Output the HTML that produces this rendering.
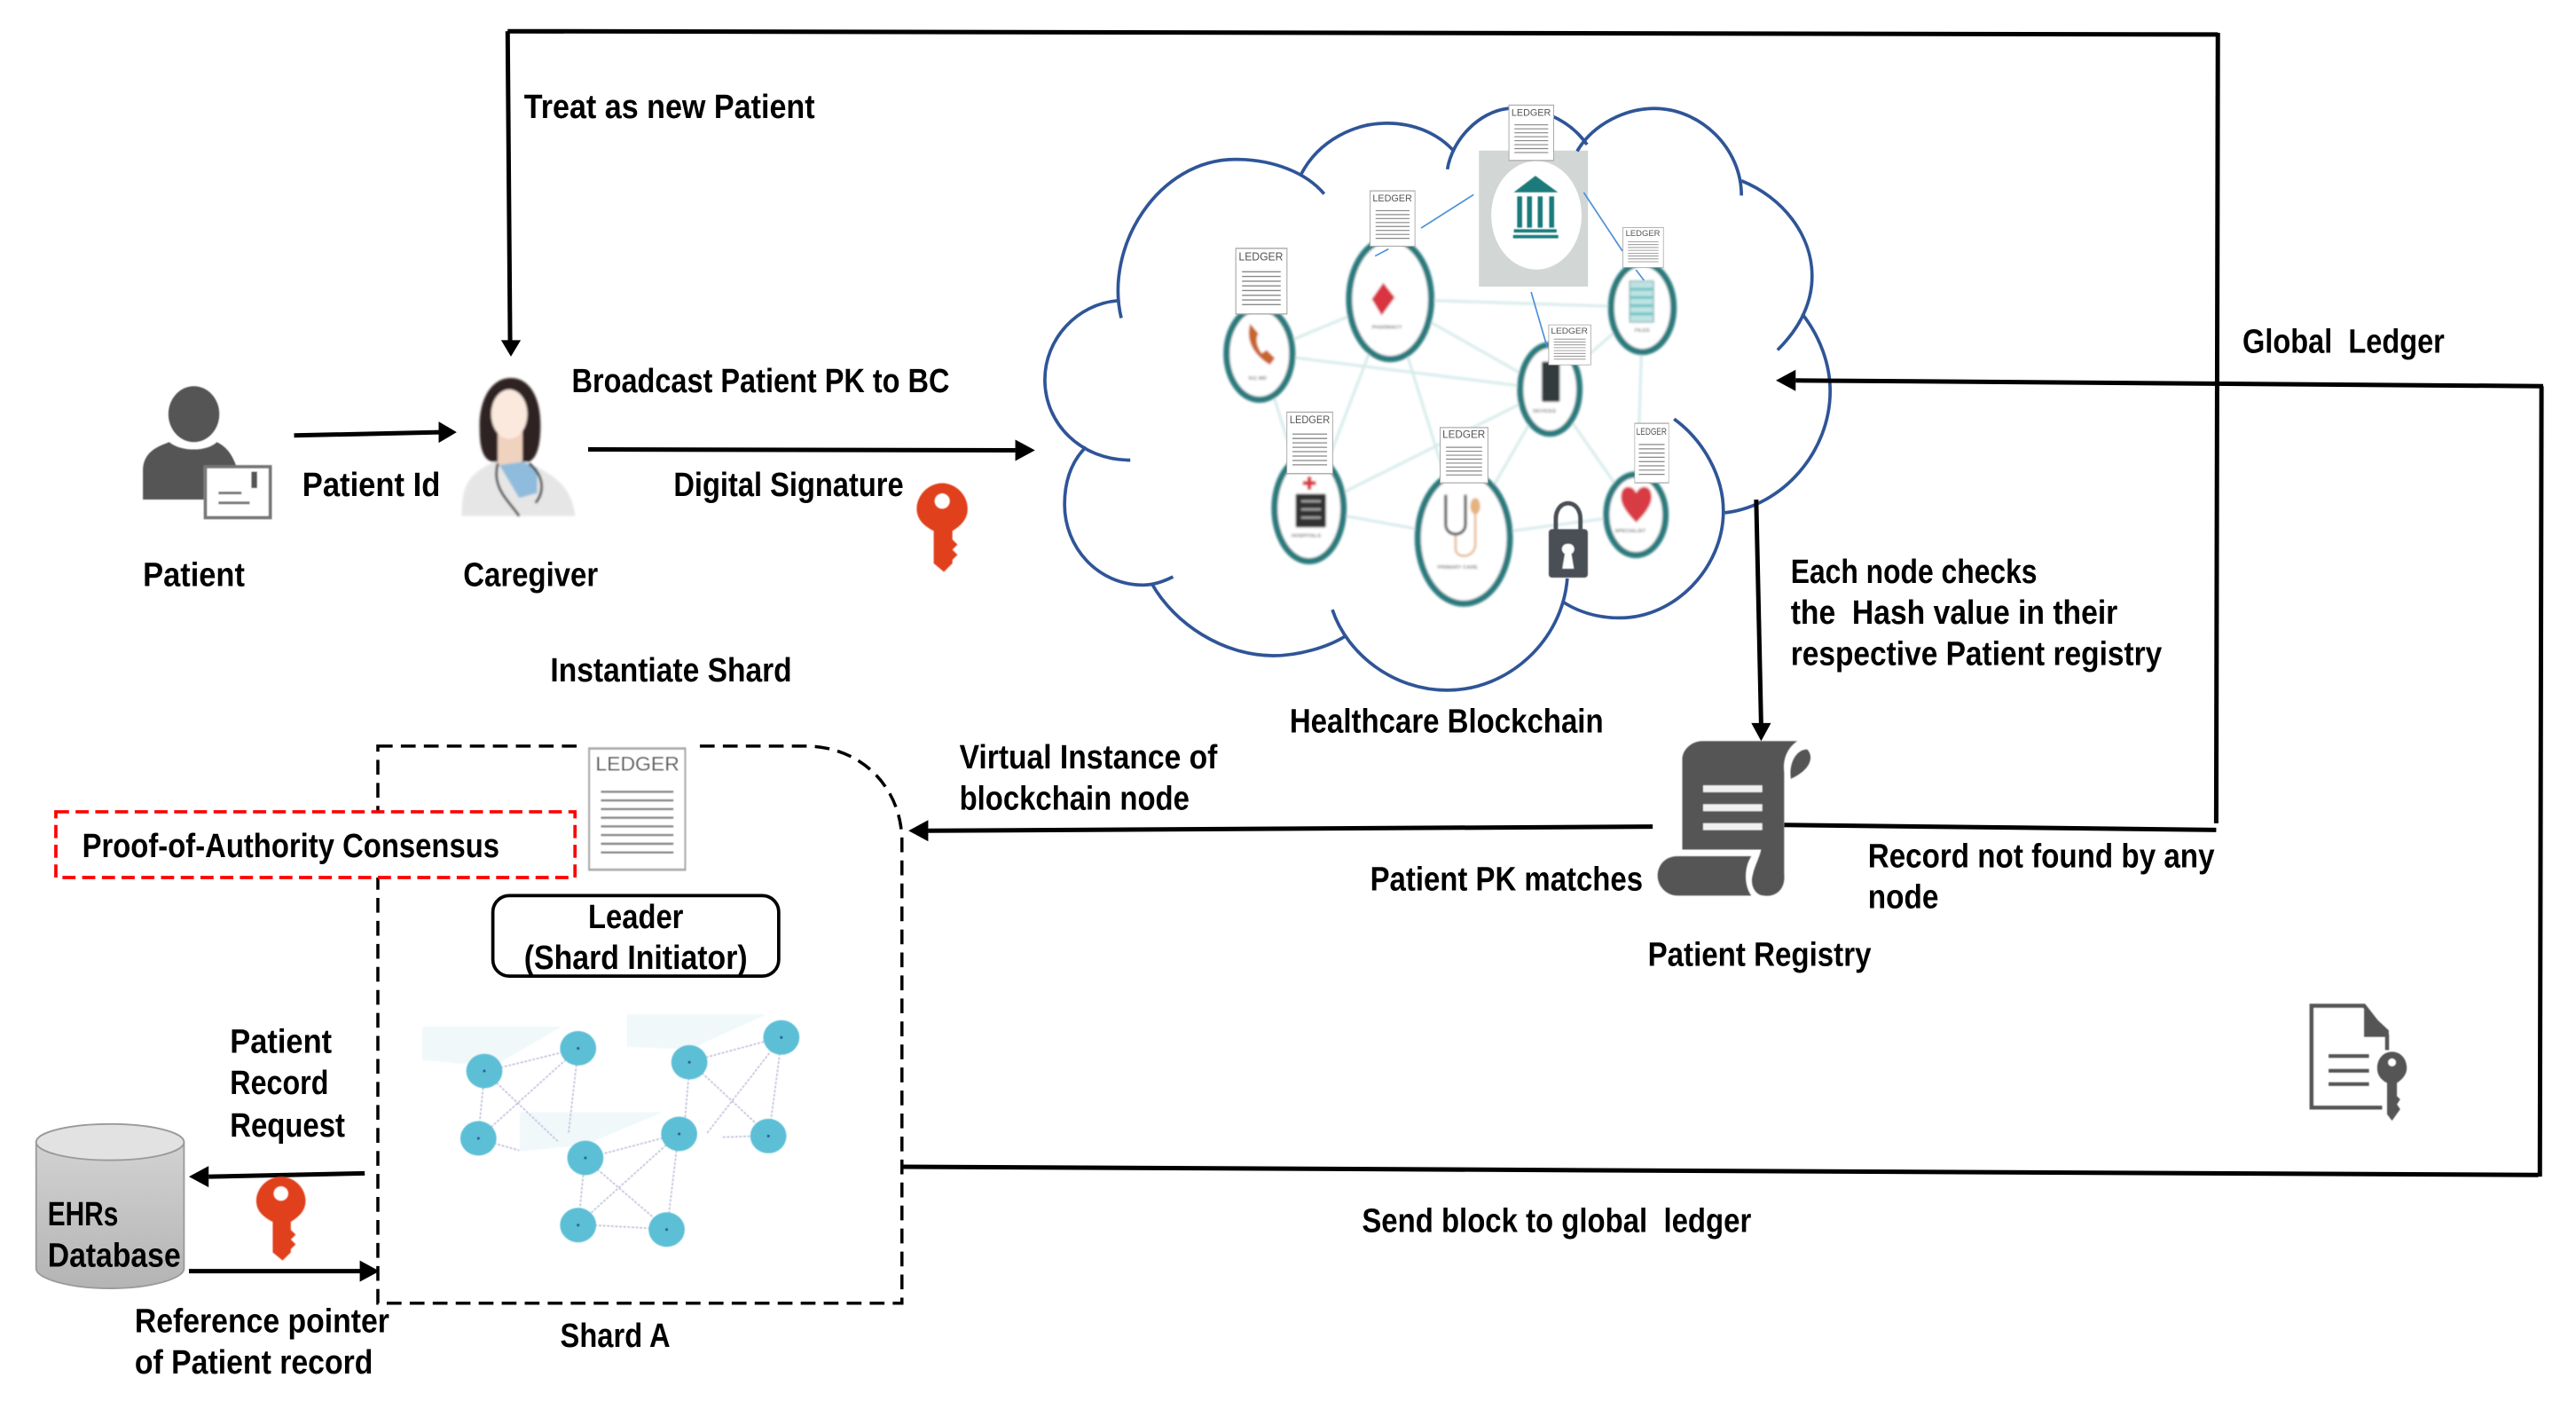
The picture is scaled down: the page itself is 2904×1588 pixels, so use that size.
<!DOCTYPE html>
<html><head><meta charset="utf-8"><style>
html,body{margin:0;padding:0;background:#fff;width:2904px;height:1588px;overflow:hidden}
svg{display:block}
.t{font-family:"Liberation Sans",sans-serif;font-weight:bold;font-size:20.5px;fill:#000}
.l{font-family:"Liberation Sans",sans-serif;fill:#555}
.n{font-family:"Liberation Sans",sans-serif;font-size:3.2px;fill:#777;font-weight:bold}
.a{stroke:#000;stroke-width:2.7;fill:none}
.c{fill:none;stroke:#2f5597;stroke-width:2}
.e{stroke:#d6eaea;stroke-width:1.6}
.b{stroke:#4a90d9;stroke-width:.9}
.r{fill:#fff;stroke:#2c7a7d;stroke-width:3.8}
.s{stroke:#b4b4d6;stroke-width:.8;stroke-dasharray:1.5 1}
</style></head><body>
<svg xmlns="http://www.w3.org/2000/svg" width="2904" height="1588" viewBox="0 0 1568 857.4" preserveAspectRatio="none">
<defs>
<filter id="bl" x="-10%" y="-10%" width="120%" height="120%"><feGaussianBlur stdDeviation=".7"/></filter>
<filter id="bl2" x="-10%" y="-10%" width="120%" height="120%"><feGaussianBlur stdDeviation=".35"/></filter>
<linearGradient id="cyl" x1="0" y1="0" x2="0" y2="1"><stop offset="0" stop-color="#d2d2d2"/><stop offset="1" stop-color="#b4b4b4"/></linearGradient>
<symbol id="led" viewBox="0 0 100 100" preserveAspectRatio="none">
<rect x="1" y="1" width="98" height="98" fill="#fff" stroke="#aaa" stroke-width="2"/>
<g stroke="#888" stroke-width="1.8"><path d="M13 36H87M13 43H87M13 50H87M13 57H87M13 64H87M13 71H87M13 78H87M13 85H87"/></g>
</symbol>
<symbol id="key" viewBox="0 0 30 52" preserveAspectRatio="none">
<path fill-rule="evenodd" fill="#e0401f" d="M15 0C23 0 30 7 30 15C30 21 26 25 21 28V33L24 36L21 39L24 42L21 45V47L16 52L10 47V28C4 25 0 21 0 15C0 7 7 0 15 0ZM15 6A4.5 4.5 0 1 0 15 15A4.5 4.5 0 1 0 15 6Z"/>
</symbol>
</defs>

<!-- Network edges -->
<g filter="url(#bl)">
<path class="e" d="M846 182L1000 187M846 182L943 237M767 215L846 182M767 215L943 237M846 182L797 310M846 182L891 327M767 215L797 310M797 310L891 327M797 310L943 237M891 327L943 237M943 237L1000 187M943 237L996 313M1000 187L996 313M891 327L996 313" fill="none"/>
<ellipse class="r" cx="766.6" cy="215.2" rx="20" ry="28"/>
<ellipse class="r" cx="846.2" cy="182" rx="25" ry="36.5"/>
<ellipse class="r" cx="999.7" cy="187.2" rx="19" ry="27"/>
<ellipse class="r" cx="943.4" cy="236.9" rx="18" ry="27"/>
<ellipse class="r" cx="796.8" cy="309.5" rx="21" ry="32"/>
<ellipse class="r" cx="891" cy="327.3" rx="28" ry="40"/>
<ellipse class="r" cx="995.8" cy="313.3" rx="18" ry="24.5"/>
<!-- phone -->
<path d="M761 197C758 207 763 216 773 222L776 218L771 213L768 215C765 211 764 206 766 203Z" fill="#c8642c"/>
<text class="n" x="760" y="231">911 MD</text>
<!-- pharmacy -->
<path d="M842 172L849 181L841 192L835 182Z" fill="#d9343f"/>
<text class="n" x="835" y="200">PHARMACY</text>
<!-- file -->
<rect x="992" y="171" width="14.5" height="25" fill="#bfe3e3" stroke="#7fa9a9" stroke-width=".7"/>
<path d="M992 176H1006M992 181H1006M992 186H1006M992 191H1006" stroke="#5fbfbf" stroke-width="1.5"/>
<text class="n" x="995" y="202">FILES</text>
<!-- mobile -->
<rect x="938.5" y="220" width="11" height="24.5" fill="#333a3c" rx="1"/>
<text class="n" x="933" y="251">DEVICES</text>
<!-- hospital -->
<rect x="788.6" y="300.5" width="18.5" height="20.5" fill="#333" rx="1"/>
<path d="M792 305H804M792 310H804M792 315H804" stroke="#aaa" stroke-width="1.2"/>
<path d="M797 290V298M793 294H801" stroke="#d9343f" stroke-width="2.4"/>
<text class="n" x="786" y="327">HOSPITALS</text>
<!-- stethoscope -->
<path d="M880 301V319C880 327 892 327 892 319V301" stroke="#444" stroke-width="1.7" fill="none"/>
<path d="M886 326V334C886 340 897 340 898 332V312" stroke="#e5b37f" stroke-width="1.3" fill="none"/>
<ellipse cx="898" cy="308" rx="3" ry="5" fill="#e5b37f"/>
<text class="n" x="875" y="346">PRIMARY CARE</text>
<!-- heart -->
<path d="M996 318C987 309 986 304 987 300C988 295 994 295 996 300C998 295 1004 295 1005 300C1006 304 1005 309 996 318Z" fill="#d93a45"/>
<text class="n" x="983" y="324">SPECIALIST</text>
</g>
<g filter="url(#bl2)">
<!-- lock -->
<path d="M947 324V316C947 303 962 303 962 316V324" stroke="#4a5055" stroke-width="2.6" fill="none"/>
<rect x="942.7" y="322" width="23.8" height="29.5" rx="2" fill="#4a5055"/>
<path d="M954.5 331A3.2 3.2 0 0 1 956.5 337L958 346H951L952.5 337A3.2 3.2 0 0 1 954.5 331Z" fill="#fff"/>
</g>

<!-- Bank tile -->
<rect x="900.2" y="91.6" width="66.4" height="82.8" fill="#d2d7d6"/>
<ellipse cx="935.2" cy="131" rx="27.5" ry="33" fill="#fff"/>
<g fill="#1f7a7a" filter="url(#bl2)">
<path d="M934.6 107L948.3 117H921.4Z"/>
<rect x="923.5" y="119.5" width="3" height="19"/><rect x="929.5" y="119.5" width="3" height="19"/><rect x="936" y="119.5" width="3" height="19"/><rect x="943" y="119.5" width="3" height="19"/>
<rect x="921.5" y="139.5" width="26" height="2"/><rect x="921" y="143" width="27.5" height="2"/>
</g>

<!-- Thin blue -->
<path class="b" d="M897 118.4L865 138.8M964 117.1L987.6 152.8M995.8 164.2L1000.7 170.6M932 177.7L941.8 211.4M837 155.8L845.2 151.5"/>

<!-- Cloud -->
<g>
<path class="c" d="M682.5 193.5C672 150 705 97 752 97C775 97 795 105 806 118"/>
<path class="c" d="M792 106C803 85 825 75 844 75C862 75 876 82 885 92"/>
<path class="c" d="M881 103C884 85 900 68 918 66C934 64 955 72 966 88"/>
<path class="c" d="M960 92C970 75 990 66 1007 66C1035 66 1060 90 1060 119"/>
<path class="c" d="M1060 110C1085 120 1103 143 1103 168C1103 185 1095 200 1082 213"/>
<path class="c" d="M1097 191C1108 205 1114 222 1114 238C1114 275 1085 308 1050 312"/>
<path class="c" d="M1019 255C1037 268 1049 290 1049 311C1049 345 1020 376 986 376C972 376 960 372 951 366"/>
<path class="c" d="M954 352C951 390 918 420 881 420C848 420 820 398 811 371"/>
<path class="c" d="M819 387C808 394 790 399 775 399C745 399 715 380 701 355"/>
<path class="c" d="M714 351C708 354 702 356 696 356C668 356 648 333 648 307C648 293 652 281 661 272"/>
<path class="c" d="M688 280C658 280 636 258 636 231C636 206 656 185 680 183"/>
</g>

<!-- Ledgers -->
<use href="#led" x="918.2" y="63.6" width="27.8" height="34.4"/>
<use href="#led" x="833.7" y="115.8" width="27.9" height="34.4"/>
<use href="#led" x="751.9" y="150.7" width="31.8" height="40.8"/>
<use href="#led" x="987.6" y="138.2" width="25.2" height="24.8"/>
<use href="#led" x="942.4" y="197.4" width="26.2" height="24.9"/>
<use href="#led" x="783" y="250.4" width="28.5" height="38.2"/>
<use href="#led" x="876.3" y="259.8" width="29.7" height="34.4"/>
<use href="#led" x="994.8" y="257.2" width="21.2" height="37"/>
<g class="l">
<text x="920" y="70.5" font-size="6" textLength="24" lengthAdjust="spacingAndGlyphs">LEDGER</text>
<text x="835.5" y="122.5" font-size="6" textLength="24" lengthAdjust="spacingAndGlyphs">LEDGER</text>
<text x="754" y="158.5" font-size="7" textLength="27" lengthAdjust="spacingAndGlyphs">LEDGER</text>
<text x="989.5" y="143.5" font-size="5" textLength="21" lengthAdjust="spacingAndGlyphs">LEDGER</text>
<text x="944" y="203" font-size="5" textLength="22.5" lengthAdjust="spacingAndGlyphs">LEDGER</text>
<text x="785" y="257.5" font-size="6.5" textLength="24.5" lengthAdjust="spacingAndGlyphs">LEDGER</text>
<text x="878" y="266.5" font-size="6.5" textLength="26" lengthAdjust="spacingAndGlyphs">LEDGER</text>
<text x="996" y="264.5" font-size="6" textLength="18.5" lengthAdjust="spacingAndGlyphs">LEDGER</text>
</g>

<!-- Arrows -->
<path class="a" d="M309 19L1350 21M1350 20L1349 501M1086 502L1349 505"/>
<path class="a" d="M309 19L310.5 208"/><path d="M305 207H317L311 217Z"/>
<path class="a" d="M179 265L268 263"/><path d="M267 256.5L278 263L267 269.5Z"/>
<path class="a" d="M358 273.5L618 274"/><path d="M618 267.5L630 274L618 280.5Z"/>
<path class="a" d="M1069 304L1072 441"/><path d="M1066 440H1078L1072 451Z"/>
<path class="a" d="M1006 503L565 505.5"/><path d="M565 499L553 505.5L565 512Z"/>
<path class="a" d="M549 710L1545 715M1546 716L1547 235M1548 235L1093 231.5"/><path d="M1093 225L1081 231.5L1093 238Z"/>
<path class="a" d="M222 714L127 716"/><path d="M127 709.5L115 716L127 722.5Z"/>
<path class="a" d="M115 773.5L220 773.5"/><path d="M219 767L231 773.5L219 780Z"/>

<!-- Shard -->
<path d="M230 454H490C525 454 549 480 549 512V793H230Z" fill="none" stroke="#000" stroke-width="1.9" stroke-dasharray="9 5"/>
<rect x="34" y="494" width="316" height="40" fill="#fff" stroke="#f00" stroke-width="2" stroke-dasharray="8 4"/>
<rect x="354" y="452" width="68" height="82" fill="#fff"/>
<g filter="url(#bl2)">
<use href="#led" x="358" y="454.7" width="59.7" height="75.3"/>
<text class="l" x="362.5" y="469" font-size="12" textLength="51" lengthAdjust="spacingAndGlyphs">LEDGER</text>
</g>
<rect x="300" y="545" width="174" height="49" rx="10" fill="#fff" stroke="#000" stroke-width="2"/>

<!-- Shard network -->
<g filter="url(#bl2)">
<path d="M257 624.7H341.8L300 649L257 645Z" fill="#f0f8fa"/>
<path d="M381.6 617.3H466.6L419.6 638.5L381.6 637Z" fill="#f0f8fa"/>
<path d="M316.5 676.8H403.3L356.3 696.6L316.5 700.6Z" fill="#f0f8fa"/>
<path class="s" d="M295 652L352 638M295 652L291 693M352 638L291 693M352 638L346 690M295 652L340 695M291 693L316 700M420 646L476 631M420 646L417 680M476 631L430 690M476 631L468 691M420 646L468 691M440 692L468 691M356 705L413 690M356 705L352 745M356 705L406 748M413 690L352 745M413 690L406 748M352 745L406 748" fill="none"/>
<g fill="#5bbfd6">
<ellipse cx="294.8" cy="651.7" rx="11" ry="10.5"/><ellipse cx="351.9" cy="637.9" rx="11" ry="10.5"/><ellipse cx="291.2" cy="692.7" rx="11" ry="10.5"/>
<ellipse cx="419.6" cy="646.4" rx="11" ry="10.5"/><ellipse cx="475.6" cy="631.3" rx="11" ry="10.5"/><ellipse cx="467.7" cy="691.3" rx="11" ry="10.5"/>
<ellipse cx="413.4" cy="690" rx="11" ry="10.5"/><ellipse cx="356.3" cy="704.6" rx="11" ry="10.5"/><ellipse cx="351.9" cy="745.5" rx="11" ry="10.5"/><ellipse cx="405.8" cy="748.2" rx="11" ry="10.5"/>
</g>
<g fill="#223a88">
<circle cx="294.8" cy="651.7" r=".8"/><circle cx="351.9" cy="637.9" r=".8"/><circle cx="291.2" cy="692.7" r=".8"/><circle cx="419.6" cy="646.4" r=".8"/><circle cx="475.6" cy="631.3" r=".8"/><circle cx="467.7" cy="691.3" r=".8"/><circle cx="413.4" cy="690" r=".8"/><circle cx="356.3" cy="704.6" r=".8"/><circle cx="351.9" cy="745.5" r=".8"/><circle cx="405.8" cy="748.2" r=".8"/>
</g>
</g>

<!-- EHR cylinder -->
<path d="M22 695V772C22 778 42 784 67 784C92 784 112 778 112 772V695Z" fill="url(#cyl)" stroke="#9a9a9a" stroke-width="1"/>
<ellipse cx="67" cy="695" rx="45" ry="11" fill="#e2e2e2" stroke="#9a9a9a" stroke-width="1"/>

<!-- Keys -->
<g filter="url(#bl2)">
<use href="#key" x="558" y="294" width="31" height="54"/>
<use href="#key" x="156" y="716" width="30" height="51"/>
</g>

<!-- Patient icon -->
<g filter="url(#bl2)">
<ellipse cx="118" cy="252" rx="15.5" ry="17" fill="#555"/>
<path d="M87 304V285C88 275 95 272 103 269C110 275 126 275 132 269C138 272 141 276 144 284H124V304Z" fill="#555"/>
<rect x="125" y="284" width="39.5" height="31" fill="#fff" stroke="#777" stroke-width="2"/>
<rect x="153" y="287" width="3.5" height="10" fill="#555"/>
<path d="M133 300H147M133 306H152" stroke="#777" stroke-width="1.6"/>
</g>

<!-- Caregiver -->
<g filter="url(#bl)">
<path d="M281 314C281 295 285 288 303 280H318C336 288 348 295 350 314Z" fill="#e6e6e6"/>
<path d="M311 230C298 230 291 245 292 262C292 272 294 280 300 281H322C328 278 329 268 329 258C329 243 323 230 311 230Z" fill="#2e2320"/>
<rect x="303" y="262" width="15" height="22" fill="#f0d3bf"/>
<ellipse cx="310" cy="252" rx="11" ry="15" fill="#fbe9de"/>
<path d="M304 283L318 281L327 285V300L316 303Z" fill="#8fbcdc"/>
<path d="M303 282C299 297 310 305 316 314M322 282C332 290 331 300 326 306" stroke="#333" stroke-width="1.5" fill="none"/>
</g>

<!-- Registry -->
<g filter="url(#bl2)" fill="#555">
<path d="M1036 451H1094C1088 455 1085 462 1086 470V532C1087 542 1080 546 1074 545C1068 545 1065 538 1067 532C1068 527 1071 522 1072 517H1024V462C1024 456 1030 451 1036 451Z"/>
<path d="M1021 521H1066C1062 527 1061 538 1066 545H1021C1014 545 1009 539 1009 533C1009 526 1014 521 1021 521Z"/>
<path d="M1090 473C1089 465 1093 456 1100 456C1104 460 1103 468 1090 474Z"/>
<path d="M1036.7 480H1072.7M1036.7 491.5H1072.7M1036.7 503H1072.7" stroke="#f0f0f0" stroke-width="4.2"/>
</g>

<!-- Doc key -->
<g filter="url(#bl2)">
<path d="M1453 639V630L1439 612H1407V674H1450" fill="none" stroke="#555" stroke-width="2.4"/>
<path d="M1439 613L1454 627V631H1439Z" fill="#555"/>
<path d="M1417.4 642.6H1442M1417.4 651.6H1442M1417.4 659.7H1442" stroke="#555" stroke-width="2.2"/>
<path fill="#555" fill-rule="evenodd" d="M1456 640C1461 640 1465 644 1465 650C1465 654 1462 657 1459 659V667L1461 669L1459 672L1461 675L1456 682L1453 678V659C1449 657 1447 654 1447 650C1447 644 1451 640 1456 640ZM1456 644A2.5 2.5 0 1 0 1456 649A2.5 2.5 0 1 0 1456 644Z"/>
</g>

<!-- Labels -->
<g transform="translate(0,.7)">
<text class="t" x="319" y="71" textLength="177" lengthAdjust="spacingAndGlyphs">Treat as new Patient</text>
<text class="t" x="348" y="238" textLength="230" lengthAdjust="spacingAndGlyphs">Broadcast Patient PK to BC</text>
<text class="t" x="184" y="301" textLength="84" lengthAdjust="spacingAndGlyphs">Patient Id</text>
<text class="t" x="410" y="301" textLength="140" lengthAdjust="spacingAndGlyphs">Digital Signature</text>
<text class="t" x="87" y="356" textLength="62" lengthAdjust="spacingAndGlyphs">Patient</text>
<text class="t" x="282" y="356" textLength="82" lengthAdjust="spacingAndGlyphs">Caregiver</text>
<text class="t" x="335" y="414" textLength="147" lengthAdjust="spacingAndGlyphs">Instantiate Shard</text>
<text class="t" x="785" y="445" textLength="191" lengthAdjust="spacingAndGlyphs">Healthcare Blockchain</text>
<text class="t" x="1365" y="214" textLength="123" lengthAdjust="spacingAndGlyphs" xml:space="preserve">Global  Ledger</text>
<text class="t" x="1090" y="354" textLength="150" lengthAdjust="spacingAndGlyphs">Each node checks</text>
<text class="t" x="1090" y="379" textLength="199" lengthAdjust="spacingAndGlyphs" xml:space="preserve">the  Hash value in their</text>
<text class="t" x="1090" y="404" textLength="226" lengthAdjust="spacingAndGlyphs">respective Patient registry</text>
<text class="t" x="584" y="467" textLength="157" lengthAdjust="spacingAndGlyphs">Virtual Instance of</text>
<text class="t" x="584" y="492" textLength="140" lengthAdjust="spacingAndGlyphs">blockchain node</text>
<text class="t" x="834" y="541" textLength="166" lengthAdjust="spacingAndGlyphs">Patient PK matches</text>
<text class="t" x="1137" y="527" textLength="211" lengthAdjust="spacingAndGlyphs">Record not found by any</text>
<text class="t" x="1137" y="552" textLength="43" lengthAdjust="spacingAndGlyphs">node</text>
<text class="t" x="1003" y="587" textLength="136" lengthAdjust="spacingAndGlyphs">Patient Registry</text>
<text class="t" x="829" y="749" textLength="237" lengthAdjust="spacingAndGlyphs" xml:space="preserve">Send block to global  ledger</text>
<text class="t" x="50" y="521" textLength="254" lengthAdjust="spacingAndGlyphs">Proof-of-Authority Consensus</text>
<text class="t" x="358" y="564" textLength="58" lengthAdjust="spacingAndGlyphs">Leader</text>
<text class="t" x="319" y="589" textLength="136" lengthAdjust="spacingAndGlyphs">(Shard Initiator)</text>
<text class="t" x="140" y="640" textLength="62" lengthAdjust="spacingAndGlyphs">Patient</text>
<text class="t" x="140" y="665" textLength="60" lengthAdjust="spacingAndGlyphs">Record</text>
<text class="t" x="140" y="691" textLength="70" lengthAdjust="spacingAndGlyphs">Request</text>
<text class="t" x="29" y="745" textLength="43" lengthAdjust="spacingAndGlyphs">EHRs</text>
<text class="t" x="29" y="770" textLength="81" lengthAdjust="spacingAndGlyphs">Database</text>
<text class="t" x="82" y="810" textLength="155" lengthAdjust="spacingAndGlyphs">Reference pointer</text>
<text class="t" x="82" y="835" textLength="145" lengthAdjust="spacingAndGlyphs">of Patient record</text>
<text class="t" x="341" y="819" textLength="67" lengthAdjust="spacingAndGlyphs">Shard A</text>
</g>
</svg>
</body></html>
